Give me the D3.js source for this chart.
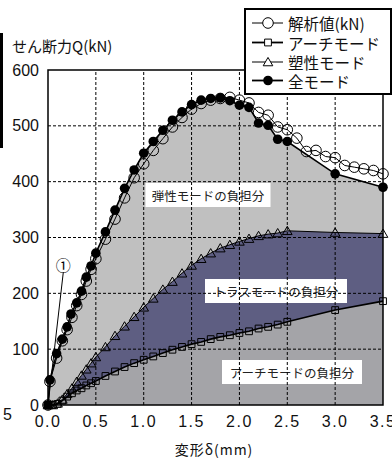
<!DOCTYPE html>
<html>
<head>
<meta charset="utf-8">
<script src="https://cdn.jsdelivr.net/npm/d3@7"></script>
<style>
  html, body { margin: 0; padding: 0; background: #fff; }
  svg { display: block; }
  .jp { font-family: "Noto Sans CJK JP", "Noto Sans", sans-serif; }
  .num { font-family: "Liberation Sans", Arial, sans-serif; }
</style>
</head>
<body>
<svg id="chart" width="392" height="459"></svg>
<script>
// Deformation δ (mm) and shear force Q (kN) for each series
const dTotal = [0, 0.02, 0.09, 0.15, 0.2, 0.24, 0.3, 0.35, 0.4, 0.45, 0.5,
  0.6, 0.7, 0.8, 0.9, 1.0, 1.1, 1.2, 1.3, 1.4, 1.5, 1.6, 1.7, 1.8, 1.9, 2.0,
  2.1, 2.2, 2.3, 2.4, 2.5, 3.0, 3.5];
const qTotal = [0, 45, 92, 118, 140, 163, 183, 204, 229, 249, 272,
  310, 349, 388, 421, 451, 472, 492, 510, 525, 538, 546, 549, 550, 545, 537,
  533, 505, 501, 476, 472, 414, 390];

const dAnalysis = [0, 0.02, 0.09, 0.15, 0.2, 0.25, 0.3, 0.35, 0.4, 0.45, 0.5,
  0.6, 0.7, 0.8, 0.9, 1.0, 1.1, 1.2, 1.3, 1.4, 1.5, 1.6, 1.7, 1.8, 1.9, 2.0,
  2.1, 2.2, 2.3, 2.4, 2.5, 2.6, 2.7, 2.8, 2.9, 3.0, 3.1, 3.2, 3.3, 3.4, 3.5];
const qAnalysis = [0, 42, 84, 115, 135, 157, 178, 198, 222, 243, 262,
  297, 333, 371, 407, 432, 456, 477, 498, 515, 530, 540, 546, 549, 551, 546,
  541, 524, 519, 498, 493, 478, 454, 456, 445, 443, 429, 426, 423, 420, 414];

const dMode = [0, 0.05, 0.1, 0.15, 0.2, 0.25, 0.3, 0.35, 0.4, 0.45, 0.5,
  0.6, 0.7, 0.8, 0.9, 1.0, 1.1, 1.2, 1.3, 1.4, 1.5, 1.6, 1.7, 1.8, 1.9, 2.0,
  2.1, 2.2, 2.3, 2.4, 2.5, 3.0, 3.5];
// plastic (arch + truss) cumulative
const qPlastic = [0, 0, 3, 10, 20, 30, 42, 53, 64, 75, 86,
  104, 124, 141, 158, 175, 191, 207, 221, 236, 250, 262, 272, 281, 287, 293,
  298, 303, 306, 308, 312, 309, 307];
// arch mode
const qArch = [0, 0, 2, 8, 15, 21, 26, 30, 35, 39, 43,
  52, 60, 68, 75, 81, 87, 93, 99, 104, 109, 113, 118, 122, 125, 129,
  132, 137, 140, 144, 149, 170, 186];

// initial stiffness line ①
const dInit = [0, 0.16];
const qInit = [0, 238];

const xTicks = [0, 0.5, 1.0, 1.5, 2.0, 2.5, 3.0, 3.5];
const yTicks = [0, 100, 200, 300, 400, 500, 600];
const legendLabels = ["解析値(kN)", "アーチモード", "塑性モード", "全モード"];
const regionLabels = ["弾性モードの負担分", "トラスモードの負担分", "アーチモードの負担分"];

const svg = d3.select("#chart");
const x = d3.scaleLinear().domain([0, 3.5]).range([48, 383]);
const y = d3.scaleLinear().domain([0, 600]).range([405, 70]);

const pts = (ds, qs) => ds.map((d, i) => [d, qs[i]]);
const total = pts(dTotal, qTotal);
const analysis = pts(dAnalysis, qAnalysis);
const plastic = pts(dMode, qPlastic);
const arch = pts(dMode, qArch);

const area = d3.area().x(p => x(p[0])).y0(y(0)).y1(p => y(p[1]));
const line = d3.line().x(p => x(p[0])).y(p => y(p[1]));

// stacked shares
svg.append("path").attr("d", area(total)).attr("fill", "#c0c0c0");
svg.append("path").attr("d", area(plastic)).attr("fill", "#5e5e82");
svg.append("path").attr("d", area(arch)).attr("fill", "#a4a4a8");

// region labels on white boxes
const boxes = [
  { t: regionLabels[0], cx: 208, cy: 195, w: 125 },
  { t: regionLabels[1], cx: 276, cy: 291, w: 142 },
  { t: regionLabels[2], cx: 292, cy: 372, w: 140 }
];
boxes.forEach(b => {
  svg.append("rect").attr("x", b.cx - b.w / 2).attr("y", b.cy - 12)
    .attr("width", b.w).attr("height", 24).attr("fill", "#fff");
  svg.append("text").attr("class", "jp").attr("x", b.cx).attr("y", b.cy)
    .attr("text-anchor", "middle").attr("dominant-baseline", "central")
    .attr("font-size", 12.5).attr("fill", "#222").text(b.t);
});

// dashed grid
const grid = svg.append("g").attr("stroke", "#000").attr("stroke-width", 1)
  .attr("stroke-dasharray", "3,2");
xTicks.slice(1, -1).forEach(t => grid.append("line")
  .attr("x1", x(t)).attr("x2", x(t)).attr("y1", y(0)).attr("y2", y(600)));
yTicks.slice(1, -1).forEach(t => grid.append("line")
  .attr("x1", x(0)).attr("x2", x(3.5)).attr("y1", y(t)).attr("y2", y(t)));

// initial stiffness line and its label
svg.append("path").attr("d", line(pts(dInit, qInit)))
  .attr("fill", "none").attr("stroke", "#000").attr("stroke-width", 1);
svg.append("text").attr("class", "jp").attr("x", x(dInit[1])).attr("y", y(qInit[1]) - 8)
  .attr("text-anchor", "middle").attr("dominant-baseline", "central")
  .attr("font-size", 15).text("①");

// series lines
svg.append("path").attr("d", line(arch)).attr("fill", "none")
  .attr("stroke", "#000").attr("stroke-width", 1.6);
svg.append("path").attr("d", line(plastic)).attr("fill", "none")
  .attr("stroke", "#000").attr("stroke-width", 1);
svg.append("path").attr("d", line(analysis)).attr("fill", "none")
  .attr("stroke", "#000").attr("stroke-width", 1);
svg.append("path").attr("d", line(total)).attr("fill", "none")
  .attr("stroke", "#000").attr("stroke-width", 1.6);

// markers
const sq = d3.symbol().type(d3.symbolSquare).size(46);
const tri = d3.symbol().type(d3.symbolTriangle).size(40);
svg.append("g").selectAll("path").data(arch).join("path")
  .attr("transform", p => `translate(${x(p[0])},${y(p[1])})`).attr("d", sq)
  .attr("fill", "none").attr("stroke", "#000").attr("stroke-width", 1);
svg.append("g").selectAll("path").data(plastic).join("path")
  .attr("transform", p => `translate(${x(p[0])},${y(p[1]) + 1})`).attr("d", tri)
  .attr("fill", "none").attr("stroke", "#000").attr("stroke-width", 1);
svg.append("g").selectAll("circle").data(analysis).join("circle")
  .attr("cx", p => x(p[0])).attr("cy", p => y(p[1])).attr("r", 5.3)
  .attr("fill", "none").attr("stroke", "#000").attr("stroke-width", 1);
svg.append("g").selectAll("circle").data(total).join("circle")
  .attr("cx", p => x(p[0])).attr("cy", p => y(p[1])).attr("r", 4.8)
  .attr("fill", "#000");

// plot frame
svg.append("rect").attr("x", x(0)).attr("y", y(600))
  .attr("width", x(3.5) - x(0)).attr("height", y(0) - y(600))
  .attr("fill", "none").attr("stroke", "#000").attr("stroke-width", 1.5);

// tick labels
svg.append("g").selectAll("text").data(yTicks).join("text")
  .attr("class", "num").attr("x", 39).attr("y", t => y(t))
  .attr("text-anchor", "end").attr("dominant-baseline", "central")
  .attr("font-size", 16).attr("fill", "#111").text(t => t);
svg.append("g").selectAll("text").data(xTicks).join("text")
  .attr("class", "num").attr("x", t => x(t)).attr("y", 421)
  .attr("text-anchor", "middle").attr("dominant-baseline", "central")
  .attr("font-size", 16).attr("letter-spacing", 1.5).attr("fill", "#111")
  .text(t => t.toFixed(1));

// axis titles
svg.append("text").attr("class", "jp").attr("x", 12).attr("y", 52)
  .attr("font-size", 15).attr("fill", "#111").text("せん断力Q(kN)");
svg.append("text").attr("class", "jp").attr("x", 214).attr("y", 449)
  .attr("text-anchor", "middle").attr("dominant-baseline", "central")
  .attr("font-size", 14).attr("letter-spacing", 1).attr("fill", "#111").text("変形δ(mm)");

// legend
const lg = svg.append("g");
lg.append("rect").attr("x", 245).attr("y", 9).attr("width", 146).attr("height", 85)
  .attr("fill", "#fff").attr("stroke", "#000").attr("stroke-width", 2);
const rows = [23, 42.5, 62, 80.5];
const lw = [1, 1.8, 1, 1.8];
legendLabels.forEach((t, i) => {
  const ry = rows[i];
  lg.append("line").attr("x1", 252).attr("x2", 283).attr("y1", ry).attr("y2", ry)
    .attr("stroke", "#000").attr("stroke-width", lw[i]);
  if (i === 0) lg.append("circle").attr("cx", 268).attr("cy", ry).attr("r", 5.3)
    .attr("fill", "#fff").attr("stroke", "#000");
  if (i === 1) lg.append("path").attr("transform", `translate(268,${ry})`).attr("d", sq)
    .attr("fill", "#fff").attr("stroke", "#000");
  if (i === 2) lg.append("path").attr("transform", `translate(268,${ry + 1})`).attr("d", tri)
    .attr("fill", "#fff").attr("stroke", "#000");
  if (i === 3) lg.append("circle").attr("cx", 268).attr("cy", ry).attr("r", 4.8)
    .attr("fill", "#000");
  lg.append("text").attr("class", "jp").attr("x", 288).attr("y", ry)
    .attr("dominant-baseline", "central").attr("font-size", 15.5)
    .attr("fill", "#111").text(t);
});

// edge of the neighbouring panel
svg.append("rect").attr("x", 0).attr("y", 33).attr("width", 3).attr("height", 115).attr("fill", "#000");
svg.append("text").attr("class", "num").attr("x", 12).attr("y", 420)
  .attr("text-anchor", "end").attr("font-size", 16).attr("fill", "#111").text("5");
</script>
</body>
</html>
